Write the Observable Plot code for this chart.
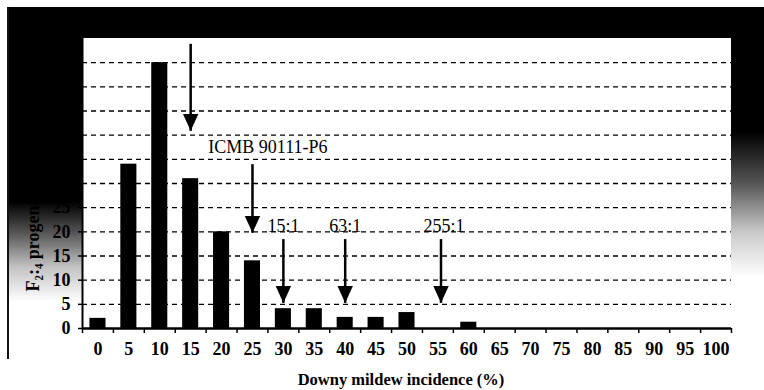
<!DOCTYPE html>
<html>
<head>
<meta charset="utf-8">
<script src="https://cdn.jsdelivr.net/npm/d3@7"></script>
<script src="https://cdn.jsdelivr.net/npm/@observablehq/plot@0.6"></script>
<style>
  html, body { margin: 0; padding: 0; background: #fff; }
  #wrap { position: relative; width: 764px; height: 390px; overflow: hidden; }
  .deco { position: absolute; }
  #chart { position: absolute; left: 0; top: 0; z-index: 2; }
</style>
</head>
<body>
<div id="wrap">
  <div class="deco" style="left:8px;top:7px;width:756px;height:31px;background:#000;"></div>
  <div class="deco" style="left:8px;top:7px;width:74px;height:300px;background:linear-gradient(to bottom,#000 0px,#000 195px,rgba(40,40,40,0.8) 225px,rgba(120,120,120,0.45) 260px,rgba(255,255,255,0) 295px);"></div>
  <div class="deco" style="left:731px;top:7px;width:33px;height:270px;background:linear-gradient(to bottom,#000 0px,#000 125px,rgba(40,40,40,0.8) 175px,rgba(120,120,120,0.4) 225px,rgba(255,255,255,0) 270px);"></div>
  <div class="deco" style="left:7px;top:7px;width:1.5px;height:352px;background:#111;"></div>
  <div id="chart"></div>
</div>
<script>
// ---- data ----
const incidence = [0, 5, 10, 15, 20, 25, 30, 35, 40, 45, 50, 55, 60, 65, 70, 75, 80, 85, 90, 95, 100];
const progenies = [2.1, 34, 55, 31, 20, 14, 4.1, 4.1, 2.3, 2.3, 3.3, 0, 1.3, 0, 0, 0, 0, 0, 0, 0, 0];
const yTicks = [0, 5, 10, 15, 20, 25, 30, 35, 40, 45, 50, 55];

const arrowX   = [15, 25, 30, 40, 55.5];
const arrowTop = [58.9, 34, 18.5, 18.5, 18.5];
const arrowTip = [40.9, 19.8, 5.3, 5.3, 5.3];

const noteText = ["ICMB 90111-P6", "15:1", "63:1", "255:1"];
const noteX    = [27.5, 30, 40, 56];
const noteY    = [37.4, 21.2, 21.2, 21.2];

const xTitle = "Downy mildew incidence (%)";
const yTitle = "F₂:₄ progenies";

// ---- tables ----
const bars = incidence.map((x, i) => ({x, n: progenies[i]}));
const arrows = arrowX.map((x, i) => ({x, top: arrowTop[i], tip: arrowTip[i]}));
const notes = noteText.map((t, i) => ({t, x: noteX[i], y: noteY[i]}));
const step = incidence[1] - incidence[0];
const half = step / 2;
const boundaries = incidence.map(v => v - half).concat([incidence[incidence.length - 1] + half]);
const gridVals = yTicks.filter(v => v > 0);

const barHalf = 1.3;
const serif = "'Liberation Serif', 'Times New Roman', serif";

const downHead = {
  draw(context, size) {
    const s = Math.sqrt(size / Math.PI);
    context.moveTo(0, 0);
    context.lineTo(-1.1 * s, -2.4 * s);
    context.lineTo(1.1 * s, -2.4 * s);
    context.closePath();
  }
};

const chart = Plot.plot({
  width: 764,
  height: 390,
  marginLeft: 82,
  marginRight: 33,
  marginTop: 38,
  marginBottom: 62,
  style: {background: "transparent", fontFamily: serif, color: "#000"},
  x: {type: "linear", domain: [boundaries[0], boundaries[boundaries.length - 1]], label: null},
  y: {domain: [0, 60], label: null},
  marks: [
    Plot.ruleY(gridVals, {stroke: "#000", strokeWidth: 1.3, strokeDasharray: "5,4"}),
    Plot.rectY(bars, {x1: d => d.x - barHalf, x2: d => d.x + barHalf, y1: 0, y2: "n", fill: "#000"}),
    Plot.axisX(boundaries, {tickSize: 5, tickFormat: () => "", stroke: "#000", strokeWidth: 1.5, label: null}),
    Plot.axisX(incidence, {tickSize: 0, tickPadding: 14, fontSize: 18, fontWeight: "bold", fontFamily: serif, label: null}),
    Plot.axisY(yTicks, {tickSize: 4, tickPadding: 8, fontSize: 18, fontWeight: "bold", fontFamily: serif, label: null, strokeWidth: 1.5}),
    Plot.ruleY([0], {stroke: "#000", strokeWidth: 2.5}),
    Plot.ruleX([boundaries[0]], {stroke: "#000", strokeWidth: 2}),
    Plot.link(arrows, {x1: "x", x2: "x", y1: "top", y2: "tip", stroke: "#000", strokeWidth: 2.5}),
    Plot.dot(arrows, {x: "x", y: "tip", symbol: downHead, r: 7, fill: "#000", stroke: "none"}),
    Plot.text(notes, {x: "x", y: "y", text: "t", fontSize: 18, fontFamily: serif, lineAnchor: "middle", fill: "#000"}),
    Plot.text([xTitle], {frameAnchor: "bottom", dx: -6, dy: 51, fontSize: 16.5, fontWeight: "bold", fontFamily: serif, lineAnchor: "middle", fill: "#000"}),
    Plot.text([yTitle], {frameAnchor: "bottom-left", dx: -49, dy: -37, rotate: -90, textAnchor: "start", lineAnchor: "middle", fontSize: 18, fontWeight: "bold", fontFamily: serif, fill: "#000"})
  ]
});
document.getElementById("chart").appendChild(chart);
</script>
</body>
</html>
